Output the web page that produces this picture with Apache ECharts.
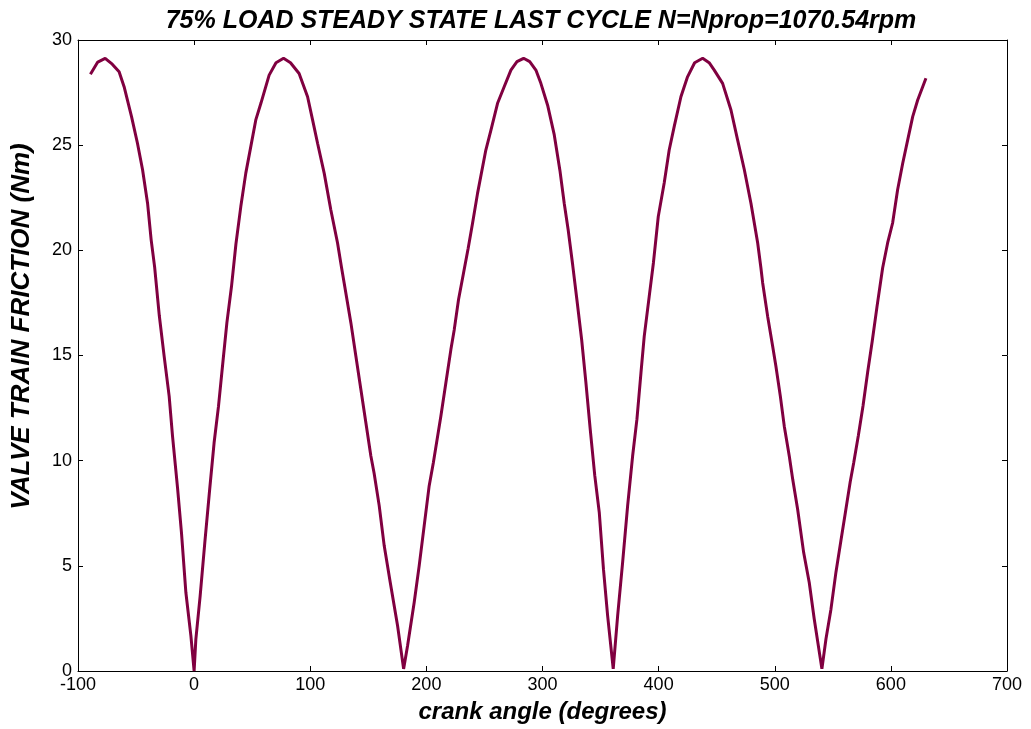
<!DOCTYPE html>
<html>
<head>
<meta charset="utf-8">
<script src="https://cdn.jsdelivr.net/npm/echarts@6/dist/echarts.min.js"></script>
<style>
    html, body { margin: 0; padding: 0; background: #fff; }
    #main_echarts { width: 1031px; height: 729px; }
</style>
</head>
<body>
<div id="main_echarts"></div>
<script>
// crank angle (degrees)
var angle = [-89.3, -83, -76.6, -70.5, -64.6, -60.3, -53.9, -48.8, -44.4, -40.1, -37, -34, -30, -25.8, -21.5, -18.6, -14.3, -10.9, -7.1, -2.8, 0,
    1.5, 5.2, 9.2, 13.5, 17.2, 21, 25, 28.2, 32.2, 36, 40.2, 44.5, 48.8, 53.1, 57.5, 64.6, 70.5, 77, 83, 90.4, 97.7, 102, 106.3, 112, 117.7, 123.5, 127,
    129.2, 135, 139.3, 143.6, 147.9, 152.2, 155, 159.4, 163.7, 168.9, 175.2, 180.4,
    183.8, 189.5, 193.8, 198.1, 202.4, 206, 212.5, 216.8, 221.1, 224, 227.7, 232, 236, 239.8, 244.1, 251.2, 255.6, 261.3, 267, 272.8, 278, 283.7, 289, 294.3, 298.6, 304.4, 310.1, 315, 318.7, 322.1, 326,
    329.6, 333.7, 337.4, 341.1, 345, 348.9, 352.5, 356.1, 360.9,
    364.7, 369, 373.3, 377.6, 381.3, 384.8, 387.6, 391.9, 395.5, 399.7, 404.8, 409.1, 413.4, 419.2, 424.9, 431, 437.9, 443.5, 447.9, 455.1, 462.3, 468, 473.8, 479.5, 485.3, 488.1,
    489.6, 493.9, 498.2, 501, 504.8, 508.2, 512.5, 515.5, 519.7, 524.9, 529.7, 534, 540.6,
    544.1, 548.4, 552.7, 557, 561, 565, 568, 572, 576, 580, 584, 588, 592.9, 597.2, 601.5, 605.8, 610.2, 614.5, 618.8, 623.1, 630.2];
// valve train friction (Nm)
var friction = [28.37, 28.95, 29.13, 28.85, 28.49, 27.78, 26.36, 25.09, 23.83, 22.24, 20.5, 19.2, 16.9, 14.96, 13.07, 11.17, 8.72, 6.58, 3.73, 1.68, 0,
    1.52, 3.57, 6.1, 8.7, 10.85, 12.59, 14.81, 16.55, 18.29, 20.3, 22.08, 23.67, 24.93, 26.2, 26.99, 28.33, 28.92, 29.13, 28.92, 28.41, 27.3, 26.2, 25.09, 23.67, 21.93, 20.35, 19.16,
    18.45, 16.55, 14.96, 13.38, 11.8, 10.22, 9.4, 7.85, 5.95, 4.21, 2.15, 0.1,
    1.2, 3.26, 5.0, 6.9, 8.8, 9.9, 12.12, 13.7, 15.28, 16.23, 17.66, 18.92, 20.1, 21.3, 22.72, 24.77, 25.72, 26.99, 27.78, 28.57, 28.97, 29.13, 28.97, 28.57, 27.94, 26.9, 25.5, 23.8, 22.24, 20.98, 19.3,
    17.66, 15.76, 13.7, 11.49, 9.3, 7.53, 4.84, 2.62, 0.1,
    2.62, 5.16, 7.85, 10.22, 11.96, 14.18, 15.91, 17.81, 19.4, 21.61, 23.2, 24.77, 25.88, 27.3, 28.25, 28.92, 29.13, 28.92, 28.57, 27.94, 26.67, 25.25, 23.83, 22.24, 20.35, 19.16,
    18.45, 16.86, 15.44, 14.49, 13.07, 11.64, 10.22, 9.1, 7.69, 5.63, 4.21, 2.47, 0.1,
    1.52, 2.94, 4.7, 6.2, 7.6, 9.0, 9.9, 11.2, 12.6, 14.2, 15.7, 17.3, 19.16, 20.35, 21.3, 22.88, 24.14, 25.25, 26.36, 27.15, 28.18];

var xTicks = [-100, 700, 100];   // min, max, step
var yTicks = [0, 30, 5];

var titleText = '75% LOAD STEADY STATE LAST CYCLE N=Nprop=1070.54rpm';
var xName = 'crank angle (degrees)';
var yName = 'VALVE TRAIN FRICTION (Nm)';

var points = [];
for (var i = 0; i < angle.length; i++) {
    points.push([angle[i], friction[i]]);
}

var main_echarts = document.getElementById('main_echarts');
var myChart = echarts.init(main_echarts);

var axisLine = {show: true, onZero: false, lineStyle: {color: '#000', width: 1}};
var axisTick = {show: true, inside: true, length: 5, lineStyle: {color: '#000', width: 1}};
var tickLabel = {color: '#000', fontSize: 18, fontFamily: 'Liberation Sans, Arial, sans-serif'};

var option = {
    backgroundColor: '#fff',
    animation: false,
    title: {
        text: titleText,
        left: 536,
        textAlign: 'center',
        top: 4,
        textStyle: {
            fontFamily: 'Liberation Sans, Arial, sans-serif',
            fontStyle: 'italic',
            fontWeight: 'bold',
            fontSize: 25,
            color: '#000'
        }
    },
    grid: {left: 78, right: 24, top: 40, bottom: 57},
    xAxis: [{
        type: 'value',
        position: 'bottom',
        min: xTicks[0], max: xTicks[1], interval: xTicks[2],
        axisLine: axisLine, axisTick: axisTick,
        axisLabel: Object.assign({margin: 5}, tickLabel),
        splitLine: {show: false},
        name: xName,
        nameLocation: 'middle',
        nameGap: 29,
        nameTextStyle: {fontFamily: 'Liberation Sans, Arial, sans-serif', fontStyle: 'italic', fontWeight: 'bold', fontSize: 24, color: '#000'}
    }, {
        type: 'value',
        position: 'top',
        min: xTicks[0], max: xTicks[1], interval: xTicks[2],
        axisLine: axisLine, axisTick: axisTick,
        axisLabel: {show: false},
        splitLine: {show: false}
    }],
    yAxis: [{
        type: 'value',
        position: 'left',
        min: yTicks[0], max: yTicks[1], interval: yTicks[2],
        axisLine: axisLine, axisTick: axisTick,
        axisLabel: Object.assign({margin: 6}, tickLabel),
        splitLine: {show: false},
        name: yName,
        nameLocation: 'middle',
        nameGap: 43,
        nameTextStyle: {fontFamily: 'Liberation Sans, Arial, sans-serif', fontStyle: 'italic', fontWeight: 'bold', fontSize: 26, color: '#000', padding: [0, 0, 0, 58]}
    }, {
        type: 'value',
        position: 'right',
        min: yTicks[0], max: yTicks[1], interval: yTicks[2],
        axisLine: axisLine, axisTick: axisTick,
        axisLabel: {show: false},
        splitLine: {show: false}
    }],
    series: [{
        type: 'line',
        data: points,
        showSymbol: false,
        smooth: false,
        lineStyle: {color: '#800040', width: 3},
        itemStyle: {color: '#800040'}
    }]
};
myChart.setOption(option);
</script>
</body>
</html>
